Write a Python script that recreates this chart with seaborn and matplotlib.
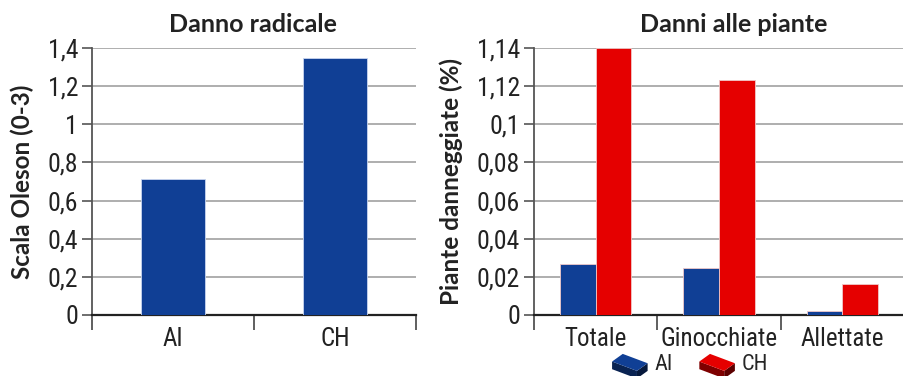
import matplotlib
matplotlib.use("Agg")
import matplotlib.pyplot as plt
from matplotlib import font_manager
from matplotlib.legend_handler import HandlerBase
from matplotlib.patches import Polygon, Patch
import seaborn as sns
import pandas as pd

# ---- data ----
left_title = "Danno radicale"
left_ylabel = "Scala Oleson (0-3)"
left_cats = ["AI", "CH"]
left_vals = [0.715, 1.35]
left_ticks = [0, 0.2, 0.4, 0.6, 0.8, 1.0, 1.2, 1.4]
left_ticklabels = ["0", "0,2", "0,4", "0,6", "0,8", "1", "1,2", "1,4"]

right_title = "Danni alle piante"
right_ylabel = "Piante danneggiate (%)"
right_cats = ["Totale", "Ginocchiate", "Allettate"]
series_names = ["AI", "CH"]
ai_vals = [0.0269, 0.0246, 0.0019]
ch_vals = [0.140, 0.1234, 0.0161]
right_ticks = [0, 0.02, 0.04, 0.06, 0.08, 0.10, 0.12, 0.14]
right_ticklabels = ["0", "0,02", "0,04", "0,06", "0,08", "0,1", "1,12", "1,14"]

BLUE = "#103f95"
RED = "#e50000"

available = {f.name for f in font_manager.fontManager.ttflist}
def pick(cands):
    for c in cands:
        if c in available:
            return c
    return "DejaVu Sans"
TICK_FONT = pick(["Liberation Sans Narrow", "Roboto Condensed", "Roboto", "Lato"])
BOLD_FONT = pick(["Lato", "Noto Sans", "Open Sans"])

sns.set_theme(style="white")
plt.rcParams["font.family"] = [TICK_FONT, "DejaVu Sans"]

fig = plt.figure(figsize=(9.04, 3.76), dpi=100)
H = 376.0
W = 904.0
ax1 = fig.add_axes([92 / W, (H - 315) / H, (416 - 92) / W, 267 / H])
ax2 = fig.add_axes([534 / W, (H - 315) / H, (904 - 534) / W, 267 / H])

df_left = pd.DataFrame({"cat": left_cats, "val": left_vals})
sns.barplot(data=df_left, x="cat", y="val", color=BLUE, saturation=1,
            width=0.4, ax=ax1, edgecolor="#c9d6f0", linewidth=0.6, zorder=3)

df_right = pd.DataFrame({
    "cat": right_cats * 2,
    "val": ai_vals + ch_vals,
    "grp": [series_names[0]] * 3 + [series_names[1]] * 3,
})
sns.barplot(data=df_right, x="cat", y="val", hue="grp", palette=[BLUE, RED],
            saturation=1, width=0.58, ax=ax2, legend=False,
            edgecolor="#f0c8c8", linewidth=0.6, zorder=3)

def style(ax, ticks, ticklabels, ylim, ncat, title, ylabel, title_x):
    ax.set_ylim(*ylim)
    ax.set_xlim(-0.5, ncat - 0.5)
    ax.set_yticks(ticks)
    ax.set_yticklabels(ticklabels, fontsize=18.5, color="#222222")
    ax.yaxis.grid(True, color="#a8a8a8", linewidth=1.3, zorder=0)
    ax.set_axisbelow(True)
    for s in ["top", "right"]:
        ax.spines[s].set_visible(False)
    ax.spines["left"].set_color("#555555")
    ax.spines["left"].set_linewidth(1.3)
    ax.spines["bottom"].set_color("#222222")
    ax.spines["bottom"].set_linewidth(1.6)
    ax.tick_params(axis="y", which="major", length=7, width=1.2, color="#555555",
                   pad=3, left=True)
    ax.set_xticks([i - 0.5 for i in range(ncat + 1)], minor=True)
    ax.tick_params(axis="x", which="minor", length=11, width=1.2, color="#444444",
                   bottom=True)
    ax.tick_params(axis="x", which="major", length=0, pad=9, labelsize=18,
                   labelcolor="#222222")
    ax.set_xlabel("")
    ax.set_ylabel(ylabel, fontsize=17.5, fontweight="bold", family=[BOLD_FONT, "DejaVu Sans"],
                  color="#222222")
    fig.text(title_x / W, 1 - 24 / H, title, ha="center", va="center", fontsize=18,
             fontweight="bold", family=[BOLD_FONT, "DejaVu Sans"], color="#222222")

style(ax1, left_ticks, left_ticklabels, (0, 1.4), 2, left_title, left_ylabel, 253)
style(ax2, right_ticks, right_ticklabels, (0, 0.14), 3, right_title, right_ylabel, 734)
ax1.yaxis.set_label_coords(-(92 - 34) / (416 - 92), 0.5)
ax2.yaxis.set_label_coords(-(534 - 463) / (904 - 534), 0.5)

def shade(c, f):
    import matplotlib.colors as mc
    r, g, b = mc.to_rgb(c)
    return (r * f, g * f, b * f)

class BrickHandler(HandlerBase):
    def create_artists(self, legend, orig_handle, xdescent, ydescent, width, height,
                       fontsize, trans):
        c = orig_handle.get_facecolor()
        x0, y0 = -xdescent, -ydescent
        w, h = width, height
        d = h * 0.45
        top = Polygon([(x0, y0 + h * 0.55), (x0 + w * 0.3, y0 + h),
                       (x0 + w, y0 + h * 0.45), (x0 + w * 0.7, y0)],
                      closed=True, facecolor=c, edgecolor="none", transform=trans)
        front = Polygon([(x0, y0 + h * 0.55), (x0 + w * 0.7, y0), (x0 + w * 0.7, y0 - d),
                         (x0, y0 + h * 0.55 - d)], closed=True,
                        facecolor=shade(c, 0.55), edgecolor="none", transform=trans)
        side = Polygon([(x0 + w * 0.7, y0), (x0 + w, y0 + h * 0.45),
                        (x0 + w, y0 + h * 0.45 - d), (x0 + w * 0.7, y0 - d)], closed=True,
                       facecolor=shade(c, 0.4), edgecolor="none", transform=trans)
        return [front, side, top]

handles = [Patch(facecolor=BLUE), Patch(facecolor=RED)]
fig.legend(handles, series_names, loc="center", bbox_to_anchor=(690 / W, 1 - 364.5 / H),
           ncol=2, frameon=False, fontsize=16, handlelength=1.6, handleheight=0.8,
           handletextpad=0.3, columnspacing=1.2, borderpad=0,
           handler_map={Patch: BrickHandler()})

fig.savefig("out.png", dpi=100)
